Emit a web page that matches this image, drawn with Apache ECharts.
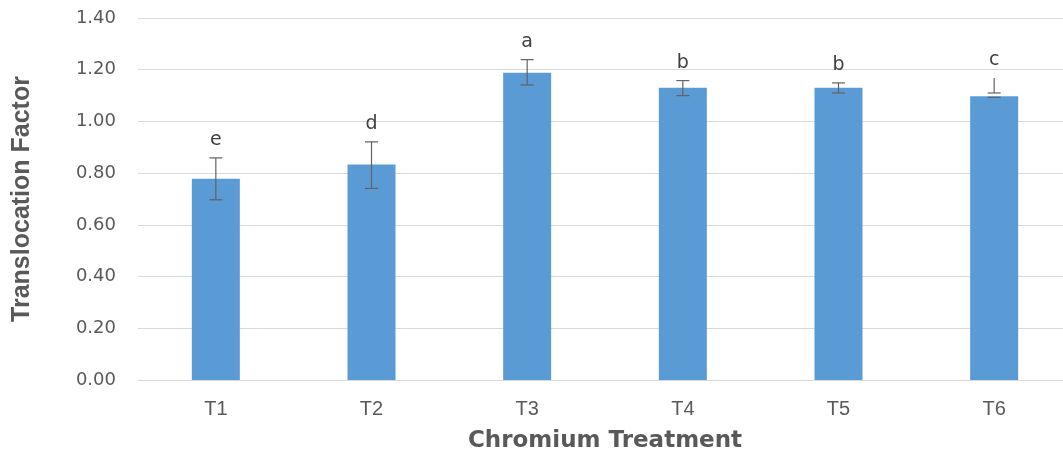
<!DOCTYPE html>
<html><head><meta charset="utf-8">
<script src="https://cdn.jsdelivr.net/npm/echarts@6/dist/echarts.min.js"></script>
<style>html,body{margin:0;padding:0;background:#fff;}#c{width:1063px;height:452px;}</style>
</head><body><div id="c"></div>
<script>
var categories = ['T1','T2','T3','T4','T5','T6'];
var values = [0.778, 0.833, 1.188, 1.130, 1.130, 1.097];
var errHigh = [0.859, 0.921, 1.239, 1.158, 1.149, 1.168];
var errLow = [0.697, 0.741, 1.141, 1.100, 1.110, 1.110];
var letters = ['e','d','a','b','b','c'];
var yTicks = ['0.00','0.20','0.40','0.60','0.80','1.00','1.20','1.40'];

var chart = echarts.init(document.getElementById('c'));
var errData = categories.map(function(c,i){ return [i, errLow[i], errHigh[i], values[i]]; });
chart.setOption({
  animation: false,
  grid: {left: 138, top: 18, width: 934, height: 362, containLabel: false, outerBoundsMode: 'none'},
  xAxis: {
    type: 'category', data: categories,
    axisLine: {lineStyle: {color: '#d9d9d9', width: 1}},
    axisTick: {show: false},
    axisLabel: {color: '#595959', fontSize: 20, fontFamily: 'Liberation Sans', margin: 19},
    name: 'Chromium Treatment', nameLocation: 'middle', nameGap: 50,
    nameTextStyle: {color: '#595959', fontSize: 23, fontWeight: 'bold', fontFamily: 'DejaVu Sans'}
  },
  yAxis: {
    type: 'value', min: 0, max: 1.4, interval: 0.2,
    axisLine: {show: false}, axisTick: {show: false},
    splitLine: {lineStyle: {color: '#d9d9d9', width: 1}},
    axisLabel: {color: '#595959', fontSize: 18, fontFamily: 'DejaVu Sans', margin: 22,
      formatter: function(v){ return yTicks[Math.round(v/0.2)]; }},
    name: 'Translocation Factor', nameLocation: 'middle', nameGap: 103, nameRotate: 90,
    nameTextStyle: {color: '#595959', fontSize: 25, fontWeight: 'bold', fontFamily: 'Liberation Sans'}
  },
  series: [
    {type: 'bar', data: values, barWidth: 48, itemStyle: {color: '#5B9BD5'}},
    {type: 'custom', data: errData, z: 10,
     renderItem: function(params, api){
       var x = api.coord([api.value(0), 0])[0];
       var lo = api.coord([api.value(0), api.value(1)])[1];
       var hi = api.coord([api.value(0), api.value(2)])[1];
       var i = params.dataIndex;
       var w = 6.5;
       var st = {stroke: '#626262', lineWidth: 1.2};
       var ch = [
         {type:'line', shape:{x1:x,y1:hi,x2:x,y2:lo}, style: st},
         {type:'line', shape:{x1:x-w,y1:lo,x2:x+w,y2:lo}, style: st},
         {type:'text', style:{text: letters[i], x: x, y: hi - 8, textAlign:'center', textVerticalAlign:'bottom',
            fill:'#404040', fontSize: 19, fontFamily:'DejaVu Sans'}}
       ];
       if (i !== 5) ch.push({type:'line', shape:{x1:x-w,y1:hi,x2:x+w,y2:hi}, style: st});
       else {
         var bt = api.coord([api.value(0), api.value(3)])[1];
         ch.push({type:'line', shape:{x1:x-w,y1:bt+1,x2:x+w,y2:bt+1}, style: st});
       }
       return {type:'group', children: ch};
     }}
  ]
});
</script></body></html>
